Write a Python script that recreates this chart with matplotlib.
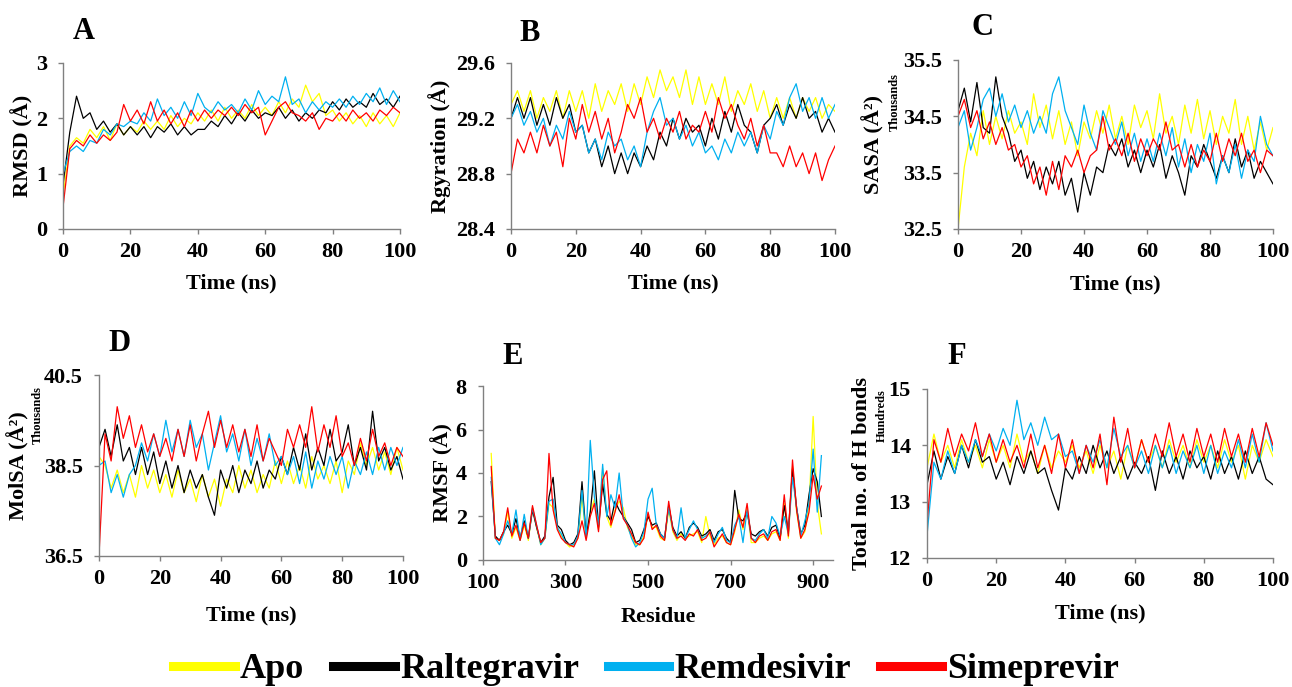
import numpy as np
import matplotlib
matplotlib.use('Agg')
import matplotlib.pyplot as plt
from matplotlib.lines import Line2D

plt.rcParams['font.family'] = ['Liberation Serif', 'DejaVu Serif']
plt.rcParams['font.weight'] = 'bold'

names = ['Apo', 'Raltegravir', 'Remdesivir', 'Simeprevir']
colors = ['#ffff00', '#000000', '#00b0f0', '#ff0000']

# time axis for A, B, C, D, F (ns) and residue axis for E
time_ns = np.arange(0, 101, 2)
residue = np.arange(120, 921, 10)

# --- A: RMSD (Å)
rmsd_apo = [0.6,
            1.5, 1.65, 1.55, 1.8, 1.65, 1.85, 1.6, 1.9, 1.7, 1.85,
            1.75, 1.95, 1.8, 1.95, 1.8, 2.05, 1.85, 2.0, 1.9, 2.1,
            1.95, 2.15, 1.95, 2.2, 2.0, 2.15, 2.0, 2.25, 2.05, 2.2,
            2.05, 2.3, 2.1, 2.35, 2.2, 2.6, 2.3, 2.45, 2.05, 2.15,
            1.95, 2.1, 1.9, 2.05, 1.85, 2.1, 1.9, 2.05, 1.85, 2.1]
rmsd_ral = [0.8,
            1.75, 2.4, 2.0, 2.1, 1.8, 1.95, 1.75, 1.9, 1.7, 1.85,
            1.7, 1.85, 1.65, 1.85, 1.75, 1.9, 1.7, 1.85, 1.7, 1.8,
            1.8, 1.95, 1.85, 2.05, 1.9, 2.1, 1.95, 2.15, 2.0, 2.1,
            2.05, 2.2, 2.0, 2.15, 1.95, 2.1, 2.0, 2.15, 2.1, 2.3,
            2.15, 2.35, 2.2, 2.3, 2.2, 2.45, 2.25, 2.35, 2.2, 2.4]
rmsd_rem = [1.0,
            1.4, 1.5, 1.4, 1.6, 1.55, 1.8, 1.7, 1.9, 1.85, 1.95,
            1.9, 2.1, 1.95, 2.35, 2.05, 2.2, 2.0, 2.3, 2.05, 2.45,
            2.2, 2.1, 2.3, 2.15, 2.25, 2.1, 2.35, 2.15, 2.5, 2.25,
            2.4, 2.3, 2.75, 2.25, 2.35, 2.1, 2.3, 2.15, 2.3, 2.2,
            2.35, 2.2, 2.4, 2.25, 2.45, 2.3, 2.55, 2.25, 2.5, 2.3]
rmsd_sim = [0.4,
            1.45, 1.6, 1.5, 1.7, 1.55, 1.7, 1.6, 1.75, 2.25, 1.95,
            2.15, 1.9, 2.3, 1.95, 2.15, 1.9, 2.1, 1.85, 2.15, 1.95,
            2.15, 2.0, 2.15, 2.05, 2.2, 2.05, 2.25, 2.1, 2.2, 1.7,
            1.95, 2.2, 2.3, 2.1, 2.05, 1.95, 2.1, 1.8, 2.0, 1.95,
            2.1, 1.95, 2.15, 2.0, 2.1, 1.95, 2.15, 2.05, 2.2, 2.1]

# --- B: radius of gyration (Å)
rg_apo = [29.3,
          29.4, 29.25, 29.4, 29.2, 29.35, 29.25, 29.4, 29.2, 29.4, 29.25,
          29.4, 29.2, 29.45, 29.25, 29.4, 29.3, 29.45, 29.25, 29.45, 29.3,
          29.5, 29.35, 29.55, 29.4, 29.5, 29.35, 29.55, 29.3, 29.5, 29.3,
          29.45, 29.3, 29.5, 29.25, 29.4, 29.3, 29.45, 29.25, 29.4, 29.2,
          29.35, 29.2, 29.35, 29.2, 29.35, 29.25, 29.35, 29.2, 29.3, 29.25]
rg_ral = [29.2,
          29.35, 29.2, 29.35, 29.15, 29.3, 29.15, 29.35, 29.2, 29.3, 29.1,
          29.15, 28.95, 29.05, 28.85, 29.0, 28.8, 28.95, 28.8, 28.95, 28.85,
          29.0, 28.9, 29.1, 29.0, 29.2, 29.05, 29.2, 29.1, 29.15, 29.0,
          29.2, 29.05, 29.25, 29.1, 29.3, 29.15, 29.1, 28.95, 29.15, 29.2,
          29.3, 29.15, 29.3, 29.2, 29.35, 29.2, 29.25, 29.1, 29.2, 29.1]
rg_rem = [29.2,
          29.3, 29.15, 29.25, 29.1, 29.2, 29.0, 29.15, 29.05, 29.25, 29.1,
          29.15, 28.95, 29.05, 28.9, 29.1, 29.0, 29.05, 28.9, 29.0, 28.85,
          29.1, 29.25, 29.35, 29.15, 29.2, 29.05, 29.15, 29.0, 29.1, 28.95,
          29.0, 28.9, 29.05, 28.95, 29.1, 29.0, 29.1, 28.95, 29.15, 29.05,
          29.25, 29.15, 29.35, 29.45, 29.25, 29.35, 29.2, 29.35, 29.2, 29.3]
rg_sim = [28.8,
          29.05, 28.95, 29.1, 28.95, 29.15, 29.0, 29.1, 28.85, 29.2, 29.05,
          29.3, 29.1, 29.25, 29.05, 29.2, 28.95, 29.1, 29.3, 29.2, 29.35,
          29.1, 29.2, 29.05, 29.2, 29.1, 29.25, 29.05, 29.15, 29.1, 29.25,
          29.1, 29.35, 29.2, 29.3, 29.15, 29.05, 29.2, 29.0, 29.15, 28.95,
          28.95, 28.85, 29.0, 28.85, 28.95, 28.8, 28.95, 28.75, 28.9, 29.0]

# --- C: SASA (thousands Å²)
sasa_apo = [32.5,
            33.6, 34.2, 33.8, 34.6, 34.0, 34.5, 34.1, 34.6, 34.2, 34.4,
            34.0, 34.9, 34.3, 34.7, 34.1, 34.6, 34.0, 34.4, 33.8, 34.4,
            34.1, 34.6, 34.2, 34.7, 34.1, 34.5, 34.0, 34.7, 34.3, 34.6,
            34.1, 34.9, 34.2, 34.5, 34.0, 34.7, 34.2, 34.8, 34.1, 34.6,
            34.0, 34.5, 34.2, 34.8, 34.0, 34.5, 33.9, 34.4, 33.9, 34.3]
sasa_ral = [34.6,
            35.0, 34.4, 35.1, 34.3, 34.2, 35.2, 34.5, 34.2, 33.7, 33.9,
            33.4, 33.7, 33.2, 33.6, 33.3, 33.7, 33.1, 33.4, 32.8, 33.5,
            33.1, 33.6, 33.5, 34.0, 33.8, 34.1, 33.6, 33.9, 33.5, 33.9,
            33.6, 34.0, 33.4, 33.8, 33.5, 33.1, 33.8, 33.6, 34.0, 33.7,
            33.4, 33.8, 33.5, 34.1, 33.6, 33.9, 33.4, 33.7, 33.5, 33.3]
sasa_rem = [34.3,
            34.6, 33.9, 34.3, 34.8, 35.0, 34.5, 34.9, 34.4, 34.7, 34.3,
            34.6, 34.2, 34.5, 34.2, 34.9, 35.2, 34.6, 34.3, 34.0, 34.7,
            34.2, 33.9, 34.6, 34.3, 34.0, 34.4, 33.8, 34.2, 33.7, 34.1,
            33.7, 34.2, 33.8, 34.3, 33.6, 34.1, 33.5, 34.0, 33.7, 34.2,
            33.3, 33.8, 33.5, 34.0, 33.4, 33.9, 33.7, 34.5, 34.0, 33.8]
sasa_sim = [34.5,
            34.8, 34.3, 34.6, 34.1, 34.4, 34.0, 34.3, 33.9, 34.0, 33.6,
            33.8, 33.3, 33.6, 33.1, 33.7, 33.2, 33.8, 33.6, 33.9, 33.5,
            33.8, 33.9, 34.5, 33.9, 34.1, 33.8, 34.2, 33.7, 34.1, 33.8,
            34.1, 33.9, 34.4, 33.9, 34.0, 33.6, 34.0, 33.6, 33.9, 33.7,
            34.2, 33.7, 34.1, 33.8, 34.2, 33.7, 33.9, 33.5, 33.9, 33.8]

# --- D: MolSA (thousands Å²)
molsa_apo = [38.7,
             38.5, 38.0, 38.4, 37.9, 38.3, 37.8, 38.5, 38.0, 38.4, 37.9,
             38.3, 37.8, 38.4, 37.9, 38.2, 37.7, 38.3, 37.8, 38.2, 37.6,
             38.2, 37.9, 38.5, 38.0, 38.4, 37.9, 38.3, 38.0, 38.6, 38.1,
             38.6, 38.1, 38.5, 38.0, 38.7, 38.2, 38.5, 38.1, 38.6, 37.9,
             38.6, 38.3, 39.0, 38.5, 38.9, 38.4, 38.8, 38.3, 38.9, 38.4]
molsa_ral = [38.9,
             39.3, 38.7, 39.4, 38.6, 38.9, 38.3, 38.9, 38.3, 38.8, 38.1,
             38.6, 38.0, 38.5, 37.9, 38.4, 38.0, 38.3, 37.8, 37.4, 38.4,
             38.0, 38.5, 37.9, 38.4, 38.1, 38.6, 38.0, 38.4, 38.2, 38.7,
             38.3, 38.9, 38.4, 39.2, 38.4, 38.9, 38.5, 39.3, 38.6, 38.8,
             39.4, 38.5, 38.9, 38.4, 39.7, 38.6, 38.9, 38.4, 38.7, 38.2]
molsa_rem = [38.5,
             38.6, 37.9, 38.3, 37.8, 38.3, 38.5, 39.0, 38.6, 39.2, 38.7,
             39.5, 38.8, 39.3, 38.7, 39.5, 38.9, 39.2, 38.4, 39.0, 39.6,
             38.8, 39.2, 38.6, 39.3, 38.5, 39.1, 38.6, 39.2, 38.5, 38.7,
             38.3, 38.7, 38.1, 38.8, 38.0, 38.6, 38.2, 38.7, 38.3, 38.7,
             38.0, 38.6, 38.3, 38.8, 38.3, 38.9, 38.4, 38.9, 38.5, 38.9]
molsa_sim = [36.5,
             39.2, 38.6, 39.8, 39.1, 39.6, 38.9, 39.4, 38.8, 39.2, 38.7,
             39.1, 38.6, 39.3, 38.7, 39.4, 38.6, 39.2, 39.7, 38.9, 39.5,
             38.9, 39.4, 38.8, 39.3, 38.7, 39.4, 38.6, 39.1, 38.8, 38.5,
             39.3, 38.9, 39.4, 38.9, 39.8, 38.8, 39.4, 38.9, 39.6, 38.7,
             39.0, 38.5, 39.1, 38.6, 39.3, 38.7, 39.0, 38.5, 38.9, 38.7]

# --- E: RMSF (Å) per residue
rmsf_apo = [4.9, 1.0, 0.9, 1.2, 2.2, 1.0, 1.5, 0.9, 1.6, 0.9,
            2.4, 1.5, 0.7, 1.0, 2.6, 2.4, 1.5, 1.1, 0.8, 0.6,
            0.7, 1.0, 2.9, 1.0, 2.2, 2.8, 1.4, 4.2, 2.0, 1.5,
            2.3, 2.7, 2.4, 1.5, 1.1, 0.7, 0.7, 1.1, 2.1, 1.5,
            1.5, 1.0, 0.9, 2.3, 1.3, 0.9, 1.2, 1.0, 1.1, 1.2,
            1.3, 0.8, 2.0, 1.1, 0.7, 1.0, 1.1, 0.8, 0.7, 1.3,
            2.3, 1.4, 2.4, 0.8, 0.8, 1.0, 1.1, 0.9, 1.2, 1.3,
            0.9, 2.6, 1.0, 4.3, 2.2, 1.0, 1.3, 2.5, 6.6, 2.6, 1.2]
rmsf_ral = [3.6, 1.1, 0.9, 1.3, 1.6, 1.2, 1.9, 1.0, 1.8, 1.0,
            2.3, 1.5, 0.8, 1.1, 2.9, 3.8, 1.6, 1.4, 0.9, 0.7,
            0.8, 1.2, 3.6, 1.1, 2.2, 4.1, 1.5, 3.5, 2.1, 1.8,
            2.7, 2.3, 2.0, 1.7, 1.4, 0.8, 0.9, 1.4, 2.0, 1.6,
            1.7, 1.2, 1.0, 2.5, 1.5, 1.1, 1.3, 1.0, 1.5, 1.7,
            1.5, 1.1, 1.2, 1.4, 0.9, 1.3, 1.4, 1.0, 0.8, 3.2,
            1.9, 1.8, 2.2, 1.2, 1.1, 1.3, 1.4, 1.1, 1.5, 1.6,
            1.0, 2.5, 1.3, 4.2, 2.4, 1.2, 1.6, 3.0, 4.2, 3.6, 2.0]
rmsf_rem = [3.8, 1.0, 0.7, 1.2, 1.8, 1.2, 2.3, 0.9, 2.1, 1.0,
            2.4, 1.6, 0.7, 1.0, 2.7, 2.8, 1.5, 1.2, 0.8, 0.7,
            0.7, 1.1, 3.2, 1.0, 5.5, 2.9, 1.6, 4.4, 2.0, 3.0,
            2.4, 4.0, 2.0, 1.6, 1.0, 0.6, 0.8, 1.3, 2.8, 3.3,
            1.6, 1.2, 1.0, 2.4, 1.4, 1.0, 2.4, 1.0, 1.4, 1.8,
            1.4, 1.0, 1.1, 1.3, 0.8, 1.2, 1.5, 0.9, 0.8, 1.6,
            2.0, 0.8, 2.3, 1.0, 0.9, 1.2, 1.4, 1.0, 2.0, 1.7,
            1.1, 2.0, 1.2, 3.8, 2.4, 1.1, 1.8, 2.6, 5.1, 2.2, 4.8]
rmsf_sim = [4.3, 1.0, 0.9, 1.3, 2.4, 1.1, 1.6, 0.9, 1.7, 1.0,
            2.5, 1.6, 0.8, 1.0, 4.9, 2.3, 1.4, 1.0, 0.8, 0.7,
            0.6, 1.0, 1.8, 0.9, 2.0, 2.6, 1.3, 3.7, 4.1, 1.6,
            2.2, 3.0, 1.9, 1.6, 1.2, 0.8, 0.7, 1.0, 2.2, 1.4,
            1.6, 1.1, 0.9, 2.7, 1.4, 1.0, 1.1, 0.9, 1.2, 1.1,
            1.4, 0.9, 1.0, 1.3, 0.6, 0.9, 1.2, 0.8, 0.7, 1.4,
            2.1, 1.5, 2.6, 1.0, 0.8, 1.1, 1.2, 0.9, 1.3, 1.4,
            0.9, 3.0, 1.1, 4.6, 2.3, 1.0, 1.4, 2.2, 3.9, 2.8, 3.4]

# --- F: number of H bonds (hundreds)
hb_apo = [13.6,
          14.2, 13.7, 14.0, 13.6, 14.1, 13.7, 14.0, 13.6, 14.1, 13.7,
          14.0, 13.6, 14.2, 13.7, 13.9, 13.5, 14.0, 13.6, 13.9, 13.7,
          14.0, 13.6, 13.9, 13.5, 14.0, 13.6, 13.9, 13.4, 14.0, 13.6,
          14.1, 13.7, 14.0, 13.6, 14.1, 13.7, 14.0, 13.6, 14.1, 13.7,
          14.0, 13.6, 14.1, 13.7, 14.0, 13.4, 14.0, 13.7, 14.1, 13.8]
hb_ral = [13.3,
          13.9, 13.4, 13.8, 13.5, 14.0, 13.6, 14.1, 13.7, 13.8, 13.4,
          13.7, 13.3, 13.8, 13.5, 13.9, 13.5, 13.6, 13.2, 12.85, 13.6,
          13.4, 13.8, 13.5, 14.0, 13.6, 13.9, 13.5, 13.8, 13.4, 13.7,
          13.5, 13.8, 13.2, 13.9, 13.5, 13.8, 13.4, 13.9, 13.6, 13.8,
          13.4, 13.9, 13.5, 13.8, 13.4, 13.9, 13.5, 13.8, 13.4, 13.3]
hb_rem = [12.4,
          13.7, 13.4, 13.9, 13.5, 14.0, 13.7, 14.1, 13.8, 14.2, 13.9,
          14.3, 14.0, 14.8, 14.1, 14.4, 14.0, 14.5, 14.1, 14.2, 13.8,
          13.9, 13.5, 14.0, 13.7, 14.1, 13.6, 14.3, 13.8, 14.0, 13.6,
          13.9, 13.5, 14.0, 13.6, 14.0, 13.5, 13.9, 13.6, 14.0, 13.5,
          14.0, 13.5, 13.9, 13.6, 14.1, 13.6, 14.2, 13.7, 14.4, 13.9]
hb_sim = [12.6,
          14.1, 13.7, 14.3, 13.8, 14.2, 13.9, 14.4, 13.8, 14.2, 13.7,
          14.1, 13.7, 14.0, 13.6, 14.2, 13.6, 14.0, 13.5, 14.2, 13.6,
          14.1, 13.5, 14.0, 13.6, 14.2, 13.3, 14.5, 13.7, 14.3, 13.6,
          14.1, 13.7, 14.2, 13.8, 14.4, 13.8, 14.2, 13.7, 14.3, 13.8,
          14.2, 13.7, 14.3, 13.8, 14.2, 13.7, 14.3, 13.8, 14.4, 14.0]

time_ticks = [0, 20, 40, 60, 80, 100]
residue_ticks = [100, 300, 500, 700, 900]

fig = plt.figure(figsize=(12.92, 6.87), dpi=100)

# panel rectangles in figure fractions (left, bottom, width, height)
panels = [
    dict(rect=[0.0488, 0.6667, 0.2608, 0.2416], letter='A', letter_xy=(0.062, 1.187),
         x=time_ns, series=[rmsd_apo, rmsd_ral, rmsd_rem, rmsd_sim],
         ylim=(0, 3), yticks=[0, 1, 2, 3], yfmt='{:g}', ylabel='RMSD (Å)', ylab_x=-0.122,
         xlim=(0, 100), xticks=time_ticks, xlabel='Time (ns)', unit=None),
    dict(rect=[0.3955, 0.6667, 0.2508, 0.2416], letter='B', letter_xy=(0.059, 1.18),
         x=time_ns, series=[rg_apo, rg_ral, rg_rem, rg_sim],
         ylim=(28.4, 29.6), yticks=[28.4, 28.8, 29.2, 29.6], yfmt='{:.1f}', ylabel='Rgyration (Å)', ylab_x=-0.219,
         xlim=(0, 100), xticks=time_ticks, xlabel='Time (ns)', unit=None),
    dict(rect=[0.7415, 0.6667, 0.2438, 0.2460], letter='C', letter_xy=(0.079, 1.19),
         x=time_ns, series=[sasa_apo, sasa_ral, sasa_rem, sasa_sim],
         ylim=(32.5, 35.5), yticks=[32.5, 33.5, 34.5, 35.5], yfmt='{:.1f}', ylabel='SASA (Å²)', ylab_x=-0.27,
         xlim=(0, 100), xticks=time_ticks, xlabel='Time (ns)', unit=('Thousands', -0.2, 0.75)),
    dict(rect=[0.0766, 0.1907, 0.2353, 0.2634], letter='D', letter_xy=(0.066, 1.177),
         x=time_ns, series=[molsa_apo, molsa_ral, molsa_rem, molsa_sim],
         ylim=(36.5, 40.5), yticks=[36.5, 38.5, 40.5], yfmt='{:.1f}', ylabel='MolSA (Å²)', ylab_x=-0.266,
         xlim=(0, 100), xticks=time_ticks, xlabel='Time (ns)', unit=('Thousands', -0.2, 0.78)),
    dict(rect=[0.3738, 0.1849, 0.2709, 0.2532], letter='E', letter_xy=(0.086, 1.167),
         x=residue, series=[rmsf_apo, rmsf_ral, rmsf_rem, rmsf_sim],
         ylim=(0, 8), yticks=[0, 2, 4, 6, 8], yfmt='{:g}', ylabel='RMSF (Å)', ylab_x=-0.117,
         xlim=(100, 948), xticks=residue_ticks, xlabel='Residue', unit=None),
    dict(rect=[0.7175, 0.1878, 0.2678, 0.2460], letter='F', letter_xy=(0.087, 1.195),
         x=time_ns, series=[hb_apo, hb_ral, hb_rem, hb_sim],
         ylim=(12, 15), yticks=[12, 13, 14, 15], yfmt='{:g}', ylabel='Total no. of H bonds', ylab_x=-0.188,
         xlim=(0, 100), xticks=time_ticks, xlabel='Time (ns)', unit=('Hundreds', -0.13, 0.84)),
]

for p in panels:
    ax = fig.add_axes(p['rect'])
    for vals, c in zip(p['series'], colors):
        ax.plot(p['x'], vals, color=c, lw=0.9)
    ax.set_xlim(*p['xlim'])
    ax.set_ylim(*p['ylim'])
    ax.set_xticks(p['xticks'])
    ax.set_xticklabels([str(t) for t in p['xticks']])
    ax.set_yticks(p['yticks'])
    ax.set_yticklabels([p['yfmt'].format(t) for t in p['yticks']])
    for s in ['top', 'right']:
        ax.spines[s].set_visible(False)
    for s in ['left', 'bottom']:
        ax.spines[s].set_color('#808080')
        ax.spines[s].set_linewidth(1.0)
    ax.tick_params(axis='both', direction='out', length=3.6, width=1.0, color='#808080',
                   labelsize=16)
    ax.tick_params(axis='x', pad=6)
    ax.tick_params(axis='y', pad=8)
    ax.set_xlabel(p['xlabel'], fontsize=16, fontweight='bold', va='center')
    ax.xaxis.set_label_coords(0.5, -0.33)
    ax.set_ylabel(p['ylabel'], fontsize=16, fontweight='bold', va='center', ha='center')
    ax.yaxis.set_label_coords(p['ylab_x'], 0.5)
    ax.text(p['letter_xy'][0], p['letter_xy'][1], p['letter'], transform=ax.transAxes,
            ha='center', va='center', fontsize=22, fontweight='bold')
    if p['unit'] is not None:
        ax.text(p['unit'][1], p['unit'][2], p['unit'][0], transform=ax.transAxes,
                rotation=90, ha='center', va='center', fontsize=9, fontweight='bold')

handles = [Line2D([], [], color=c, lw=6.5) for c in colors]
fig.legend(handles, names, loc='center', bbox_to_anchor=(0.5, 0.025), ncol=4,
           frameon=False, prop={'family': 'Liberation Serif', 'weight': 'bold', 'size': 26},
           handlelength=1.7, handletextpad=0.15, columnspacing=0.8, borderpad=0.1)

fig.savefig('out.png', dpi=100)
